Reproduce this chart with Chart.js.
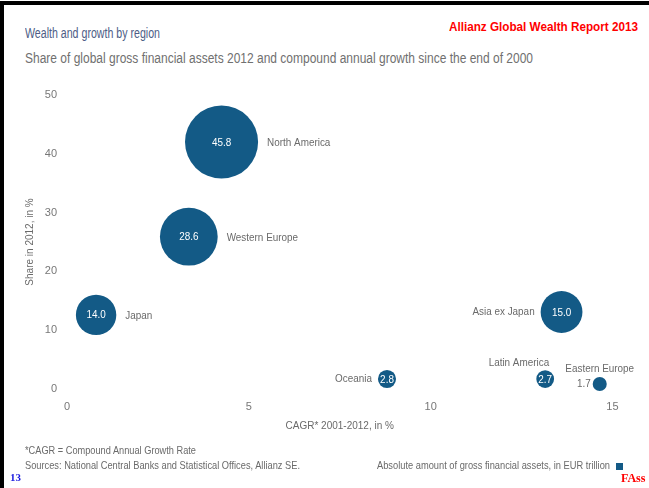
<!DOCTYPE html>
<html>
<head>
<meta charset="utf-8">
<script src="https://cdn.jsdelivr.net/npm/chart.js@4/dist/chart.umd.min.js"></script>
<style>
  html, body { margin:0; padding:0; background:#fff; }
  body { width:649px; height:488px; position:relative; overflow:hidden; font-family:"Liberation Sans",Arial,sans-serif; }
  #frameTop { position:absolute; left:0; top:1px; width:649px; height:4px; background:#000; }
  #frameLeft { position:absolute; left:0; top:1px; width:4px; height:487px; background:#000; }
  .t { position:absolute; white-space:nowrap; transform-origin:0 0; }
  #title { left:25px; top:25px; font-size:14px; color:#4d5d86; }
  #subtitle { left:25px; top:50px; font-size:14px; color:#707070; }
  #brand { left:449px; top:19px; font-size:13px; font-weight:bold; color:#ff0000; }
  #note1 { left:25px; top:444px; font-size:11px; color:#6a6a6a; }
  #note2 { left:25px; top:459px; font-size:11px; color:#6a6a6a; }
  #legend { left:377px; top:459px; font-size:11px; color:#6a6a6a; }
  #legSq { position:absolute; left:616px; top:463px; width:7px; height:7px; background:#135a86; }
  #pg { left:10px; top:471px; font-size:11px; font-weight:bold; color:#1c1ce0; font-family:"Liberation Serif",serif; }
  #fass { left:621px; top:471px; font-size:12px; font-weight:bold; color:#ff0000; font-family:"Liberation Serif",serif; }
  #c { position:absolute; left:0; top:0; }
</style>
</head>
<body>
<div id="frameTop"></div>
<div id="frameLeft"></div>
<div class="t" id="title" data-w="135">Wealth and growth by region</div>
<div class="t" id="subtitle" data-w="508">Share of global gross financial assets 2012 and compound annual growth since the end of 2000</div>
<div class="t" id="brand" data-w="189">Allianz Global Wealth Report 2013</div>
<canvas id="c" width="649" height="488"></canvas>
<div class="t" id="note1" data-w="171">*CAGR = Compound Annual Growth Rate</div>
<div class="t" id="note2" data-w="275">Sources: National Central Banks and Statistical Offices, Allianz SE.</div>
<div class="t" id="legend" data-w="233">Absolute amount of gross financial assets, in EUR trillion</div>
<div id="legSq"></div>
<div class="t" id="pg">13</div>
<div class="t" id="fass">FAss</div>
<script>
// ---- data ----
const regions = ['North America', 'Western Europe', 'Japan', 'Asia ex Japan', 'Oceania', 'Latin America', 'Eastern Europe'];
const cagr = [4.25, 3.35, 0.8, 13.6, 8.8, 13.15, 14.65];          // x: CAGR 2001-2012, in %
const share = [42.0, 25.9, 12.6, 13.1, 1.7, 1.7, 0.85];            // y: share in 2012, in %
const assets = [45.8, 28.6, 14.0, 15.0, 2.8, 2.7, 1.7];            // bubble size: EUR trillion
const valueLabels = ['45.8', '28.6', '14.0', '15.0', '2.8', '2.7', '1.7'];
const xTicks = [0, 5, 10, 15];
const yTicks = [0, 10, 20, 30, 40, 50];

// ---- label placement (style, not data) ----
const namePlace = ['right', 'right', 'right', 'left', 'left', 'aboveLeft', 'above'];
const valuePlace = ['inside', 'inside', 'inside', 'inside', 'inside', 'inside', 'left'];

const BUBBLE = '#135a86';
const GRAY = '#6a6a6a';
const FONT = '"Liberation Sans",Arial,sans-serif';
const SX = 0.9;

// condense HTML text lines to the reference widths
document.querySelectorAll('.t[data-w]').forEach(el => {
  const w = el.getBoundingClientRect().width;
  el.style.transform = 'scaleX(' + (parseFloat(el.dataset.w) / w) + ')';
});

const points = regions.map((n, i) => ({ x: cagr[i], y: share[i], r: 5.4 * Math.sqrt(assets[i]) }));

function condensedText(ctx, text, x, y, align) {
  const w = ctx.measureText(text).width * SX;
  let x0 = x;
  if (align === 'center') x0 = x - w / 2;
  else if (align === 'right') x0 = x - w;
  ctx.save();
  ctx.translate(x0, y);
  ctx.scale(SX, 1);
  ctx.textAlign = 'left';
  ctx.fillText(text, 0, 0);
  ctx.restore();
}

const labelPlugin = {
  id: 'bubbleLabels',
  afterDatasetsDraw(chart) {
    const ctx = chart.ctx;
    const meta = chart.getDatasetMeta(0);
    ctx.save();
    ctx.textBaseline = 'middle';
    meta.data.forEach((el, i) => {
      const { x, y } = el.getProps(['x', 'y'], true);
      const r = el.options.radius;
      ctx.font = '11px ' + FONT;
      if (valuePlace[i] === 'inside') {
        ctx.fillStyle = '#ffffff';
        condensedText(ctx, valueLabels[i], x, y + 0.5, 'center');
      } else {
        ctx.fillStyle = GRAY;
        condensedText(ctx, valueLabels[i], x - r - 2, y, 'right');
      }
      ctx.fillStyle = GRAY;
      const p = namePlace[i];
      if (p === 'right') condensedText(ctx, regions[i], x + r + 9, y + 1, 'left');
      else if (p === 'left') condensedText(ctx, regions[i], x - r - 6, y, 'right');
      else if (p === 'aboveLeft') condensedText(ctx, regions[i], x + 4, y - 16, 'right');
      else if (p === 'above') condensedText(ctx, regions[i], x, y - 15, 'center');
    });
    ctx.restore();
  }
};

new Chart(document.getElementById('c'), {
  type: 'bubble',
  data: {
    datasets: [{
      label: 'Absolute amount of gross financial assets, in EUR trillion',
      data: points,
      backgroundColor: BUBBLE,
      borderColor: BUBBLE,
      borderWidth: 0,
      clip: false
    }]
  },
  options: {
    responsive: false,
    animation: false,
    events: [],
    layout: { padding: { left: 0, top: 95, right: 36, bottom: 49 } },
    plugins: { legend: { display: false }, tooltip: { enabled: false } },
    scales: {
      x: {
        type: 'linear', min: 0, max: 15,
        afterFit: s => { s.height = 50; },
        afterBuildTicks: s => { s.ticks = xTicks.map(v => ({ value: v })); },
        grid: { display: false, drawTicks: false },
        border: { display: false },
        ticks: { color: '#777', font: { family: FONT, size: 11 }, padding: 11 },
        title: { display: true, text: 'CAGR* 2001-2012, in %', color: GRAY, font: { family: FONT, size: 10 }, padding: { top: 0, bottom: 7 } }
      },
      y: {
        type: 'linear', min: 0, max: 50,
        afterFit: s => { s.width = 67; },
        afterBuildTicks: s => { s.ticks = yTicks.map(v => ({ value: v })); },
        grid: { display: false, drawTicks: false },
        border: { display: false },
        ticks: { color: '#777', font: { family: FONT, size: 11 }, padding: 10 },
        title: { display: true, text: 'Share in 2012, in %', color: GRAY, font: { family: FONT, size: 10 }, padding: { top: 24, bottom: 0 } }
      }
    }
  },
  plugins: [labelPlugin]
});
</script>
</body>
</html>
